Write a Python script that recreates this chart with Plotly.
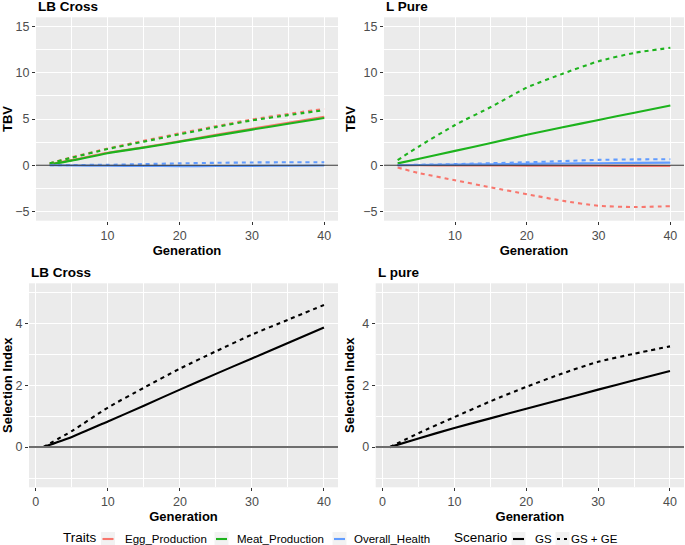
import plotly.graph_objects as go

# ---------------- data ----------------
gen_tbv = [2, 5, 10, 15, 20, 25, 30, 35, 40]
gen_si = [1, 5, 10, 15, 20, 25, 30, 35, 40]

traits = ["Egg_Production", "Meat_Production", "Overall_Health"]
scenarios = ["GS", "GS + GE"]

# LB Cross - TBV
lb_egg_gs = [0.10, 0.55, 1.35, 1.95, 2.60, 3.28, 3.95, 4.60, 5.25]
lb_meat_gs = [0.10, 0.50, 1.30, 1.90, 2.55, 3.20, 3.85, 4.48, 5.10]
lb_health_gs = [0.0, -0.03, -0.05, -0.08, -0.10, -0.09, -0.07, -0.05, -0.03]
lb_egg_ge = [0.20, 0.85, 1.80, 2.65, 3.45, 4.22, 4.95, 5.55, 6.10]
lb_meat_ge = [0.20, 0.80, 1.75, 2.55, 3.35, 4.12, 4.85, 5.42, 5.95]
lb_health_ge = [0.0, 0.02, 0.05, 0.12, 0.20, 0.26, 0.30, 0.32, 0.33]

# L Pure - TBV
lp_egg_gs = [0.0, -0.01, -0.02, -0.03, -0.04, -0.05, -0.06, -0.07, -0.08]
lp_meat_gs = [0.20, 0.70, 1.55, 2.40, 3.30, 4.10, 4.90, 5.68, 6.45]
lp_health_gs = [0.0, 0.03, 0.07, 0.11, 0.15, 0.19, 0.22, 0.25, 0.28]
lp_egg_ge = [-0.25, -0.85, -1.62, -2.40, -3.13, -3.85, -4.39, -4.52, -4.43]
lp_meat_ge = [0.55, 2.05, 4.35, 6.30, 8.40, 9.90, 11.25, 12.15, 12.70]
lp_health_ge = [0.0, 0.05, 0.12, 0.22, 0.32, 0.45, 0.58, 0.63, 0.65]

# Selection index
lb_si_gs = [0.0, 0.33, 0.83, 1.34, 1.86, 2.37, 2.87, 3.37, 3.87]
lb_si_ge = [0.0, 0.52, 1.28, 1.92, 2.54, 3.10, 3.64, 4.12, 4.60]
lp_si_gs = [0.0, 0.28, 0.62, 0.93, 1.24, 1.55, 1.86, 2.16, 2.46]
lp_si_ge = [0.0, 0.45, 0.97, 1.48, 1.95, 2.38, 2.76, 3.02, 3.26]

panel_titles = ["LB Cross", "L Pure", "LB Cross", "L pure"]
legend_titles = ["Traits", "Scenario"]

# ---------------- styling ----------------
W, H = 685, 545
FONT = "Liberation Sans, Arial, sans-serif"
colors = {"Egg_Production": "#F8766D", "Meat_Production": "#1DB31D", "Overall_Health": "#619CFF"}
dashes = {"GS": "solid", "GS + GE": "4px,4px"}
LW = 2.1


def px_x(a, b):
    return [a / W, b / W]


def px_y(top, bottom):
    return [1 - bottom / H, 1 - top / H]


fig = go.Figure()

tbv_sets = [
    ("x", "y", {"Egg_Production": (lb_egg_gs, lb_egg_ge),
                "Meat_Production": (lb_meat_gs, lb_meat_ge),
                "Overall_Health": (lb_health_gs, lb_health_ge)}),
    ("x2", "y2", {"Egg_Production": (lp_egg_gs, lp_egg_ge),
                  "Meat_Production": (lp_meat_gs, lp_meat_ge),
                  "Overall_Health": (lp_health_gs, lp_health_ge)}),
]
for xa, ya, d in tbv_sets:
    for sc_i, sc in enumerate(scenarios):
        for t in traits:
            fig.add_trace(go.Scatter(
                x=gen_tbv, y=d[t][sc_i], mode="lines", xaxis=xa, yaxis=ya,
                line=dict(color=colors[t], width=LW, dash=dashes[sc], shape="spline", smoothing=0.6),
                showlegend=False, name=f"{t} {sc}"))

si_sets = [("x3", "y3", (lb_si_gs, lb_si_ge)), ("x4", "y4", (lp_si_gs, lp_si_ge))]
for xa, ya, d in si_sets:
    for sc_i, sc in enumerate(scenarios):
        fig.add_trace(go.Scatter(
            x=gen_si, y=d[sc_i], mode="lines", xaxis=xa, yaxis=ya,
            line=dict(color="black", width=LW, dash=dashes[sc], shape="spline", smoothing=0.6),
            showlegend=False, name=sc))

tickfont = dict(family=FONT, size=12.5, color="#4D4D4D")
titlefont = dict(family=FONT, size=13, color="black", weight="bold")


def xaxis(domain, rng, anchor):
    return dict(domain=domain, range=rng, anchor=anchor, tick0=0, dtick=10,
                showgrid=True, gridcolor="white", gridwidth=1.1, zeroline=False,
                ticks="outside", ticklen=3, tickcolor="#333333", tickwidth=1,
                tickfont=tickfont, title=dict(text="Generation", font=titlefont, standoff=2),
                minor=dict(dtick=5, tick0=0, showgrid=True, gridcolor="white", gridwidth=0.5),
                automargin=False, showline=False, fixedrange=True)


def yaxis(domain, rng, anchor, dtick, mdtick, title):
    return dict(domain=domain, range=rng, anchor=anchor, tick0=0, dtick=dtick,
                showgrid=True, gridcolor="white", gridwidth=1.1, zeroline=False,
                ticks="outside", ticklen=3, tickcolor="#333333", tickwidth=1,
                tickfont=tickfont, title=dict(text=title, font=titlefont, standoff=4),
                minor=dict(dtick=mdtick, tick0=0, showgrid=True, gridcolor="white", gridwidth=0.5),
                automargin=False, showline=False, fixedrange=True)


top_y = px_y(17.3, 220.7)
bot_y = px_y(283.3, 487.3)
x1d = px_x(36, 338)
x2d = px_x(384, 684)
x3d = px_x(29, 338)
x4d = px_x(375.7, 684)

fig.update_layout(
    width=W, height=H, margin=dict(l=0, r=0, t=0, b=0),
    paper_bgcolor="white", plot_bgcolor="#EBEBEB",
    font=dict(family=FONT), showlegend=False,
    xaxis=xaxis(x1d, [0.1, 41.9], "y"),
    yaxis=yaxis(top_y, [-6, 16], "x", 5, 2.5, "TBV"),
    xaxis2=xaxis(x2d, [0.1, 41.9], "y2"),
    yaxis2=yaxis(top_y, [-6, 16], "x2", 5, 2.5, "TBV"),
    xaxis3=xaxis(x3d, [-0.95, 41.95], "y3"),
    yaxis3=yaxis(bot_y, [-1.3, 5.3], "x3", 2, 1, "Selection Index"),
    xaxis4=xaxis(x4d, [-0.95, 41.95], "y4"),
    yaxis4=yaxis(bot_y, [-1.3, 5.3], "x4", 2, 1, "Selection Index"),
)

# horizontal reference line at 0 in each panel
for xa, ya, col, w in [("x", "y", "#333333", 1.1), ("x2", "y2", "#333333", 1.1),
                       ("x3", "y3", "#6E6E6E", 2), ("x4", "y4", "#6E6E6E", 2)]:
    fig.add_shape(type="line", xref=f"{xa} domain", yref=ya, x0=0, x1=1, y0=0, y1=0,
                  line=dict(color=col, width=w), layer="above")

# panel titles
title_pos = [(36, 6), (384, 6), (29, 272), (375.7, 272)]
for txt, (px, py) in zip(panel_titles, title_pos):
    fig.add_annotation(text=txt, xref="paper", yref="paper", x=px / W, y=1 - py / H,
                       xanchor="left", yanchor="middle", showarrow=False,
                       font=dict(family=FONT, size=13.5, color="black", weight="bold"))

# ---------------- legend (drawn in paper coordinates) ----------------
LY = 539
KEY = 14
LINE = 11


def text(label, x, size, y=LY):
    fig.add_annotation(text=label, xref="paper", yref="paper", x=x / W, y=1 - y / H,
                       xanchor="left", yanchor="middle", showarrow=False, borderpad=0,
                       font=dict(family=FONT, size=size, color="black"))


def key(cx, color, dash):
    fig.add_shape(type="rect", xref="paper", yref="paper",
                  x0=(cx - KEY / 2) / W, x1=(cx + KEY / 2) / W,
                  y0=1 - (LY + KEY / 2) / H, y1=1 - (LY - KEY / 2) / H,
                  fillcolor="#F2F2F2", line=dict(width=0), layer="below")
    fig.add_shape(type="line", xref="paper", yref="paper",
                  x0=(cx - LINE / 2) / W, x1=(cx + LINE / 2) / W,
                  y0=1 - LY / H, y1=1 - LY / H,
                  line=dict(color=color, width=LW, dash=dash))


text(legend_titles[0], 61.5, 13.5, 537.5)
trait_key_x = [108, 221.5, 339.5]
trait_text_x = [123.5, 236, 353]
for t, kx, tx in zip(traits, trait_key_x, trait_text_x):
    key(kx, colors[t], "solid")
    text(t, tx, 11.5)

text(legend_titles[1], 453, 13.5, 537.5)
sc_key_x = [518.5, 562.5]
sc_text_x = [534, 570]
for sc, kx, tx in zip(scenarios, sc_key_x, sc_text_x):
    key(kx, "black", "solid" if sc == "GS" else "3px,4px")
    text(sc, tx, 11.5)

fig.write_html(
    "out.html",
    config={"displayModeBar": False},
    post_script="document.body.style.margin='0px';document.body.style.overflow='hidden';",
)
